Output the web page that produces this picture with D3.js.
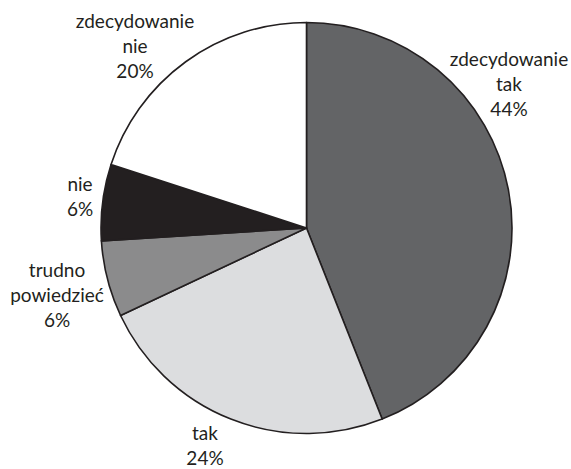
<!DOCTYPE html>
<html>
<head>
<meta charset="utf-8">
<script src="https://cdn.jsdelivr.net/npm/d3@7"></script>
<style>
  html, body { margin: 0; padding: 0; background: #fff; }
  svg text { font-family: Lato, "Open Sans", sans-serif; fill: #231f20; }
</style>
</head>
<body>
<svg id="chart" width="571" height="469"></svg>
<script>
// Answer categories, clockwise from 12 o'clock
const categories = ["zdecydowanie tak", "tak", "trudno powiedzieć", "nie", "zdecydowanie nie"];
const labelLines = [["zdecydowanie", "tak"], ["tak"], ["trudno", "powiedzieć"], ["nie"], ["zdecydowanie", "nie"]];
const shares = [44, 24, 6, 6, 20];
const fills = ["#636466", "#dcdddf", "#8b8b8c", "#231f20", "#ffffff"];

// Label anchor points (centre / baseline of first text line) for each slice
const labelAnchor = {
  "zdecydowanie tak": [509, 66],
  "tak": [205, 440],
  "trudno powiedzieć": [57, 277],
  "nie": [80, 191],
  "zdecydowanie nie": [135, 28]
};

const svg = d3.select("#chart");
const cx = 306.5, cy = 228, r = 205.5;

const pie = d3.pie().sort(null).value(d => d.value);
const arc = d3.arc().innerRadius(0).outerRadius(r);

const data = categories.map((c, i) => ({ name: c, value: shares[i], fill: fills[i], lines: labelLines[i] }));

const g = svg.append("g").attr("transform", `translate(${cx},${cy})`);
g.selectAll("path")
  .data(pie(data))
  .join("path")
  .attr("d", arc)
  .attr("fill", d => d.data.fill)
  .attr("stroke", "#231f20")
  .attr("stroke-width", 1.6)
  .attr("stroke-linejoin", "round");

const lineH = 25;
const labels = svg.append("g");
data.forEach(d => {
  const [x, y] = labelAnchor[d.name];
  const t = labels.append("text")
    .attr("text-anchor", "middle")
    .attr("font-size", 19);
  const lines = d.lines.concat([d.value + "%"]);
  lines.forEach((s, i) => {
    t.append("tspan").attr("x", x).attr("y", y + i * lineH).text(s);
  });
});
</script>
</body>
</html>
